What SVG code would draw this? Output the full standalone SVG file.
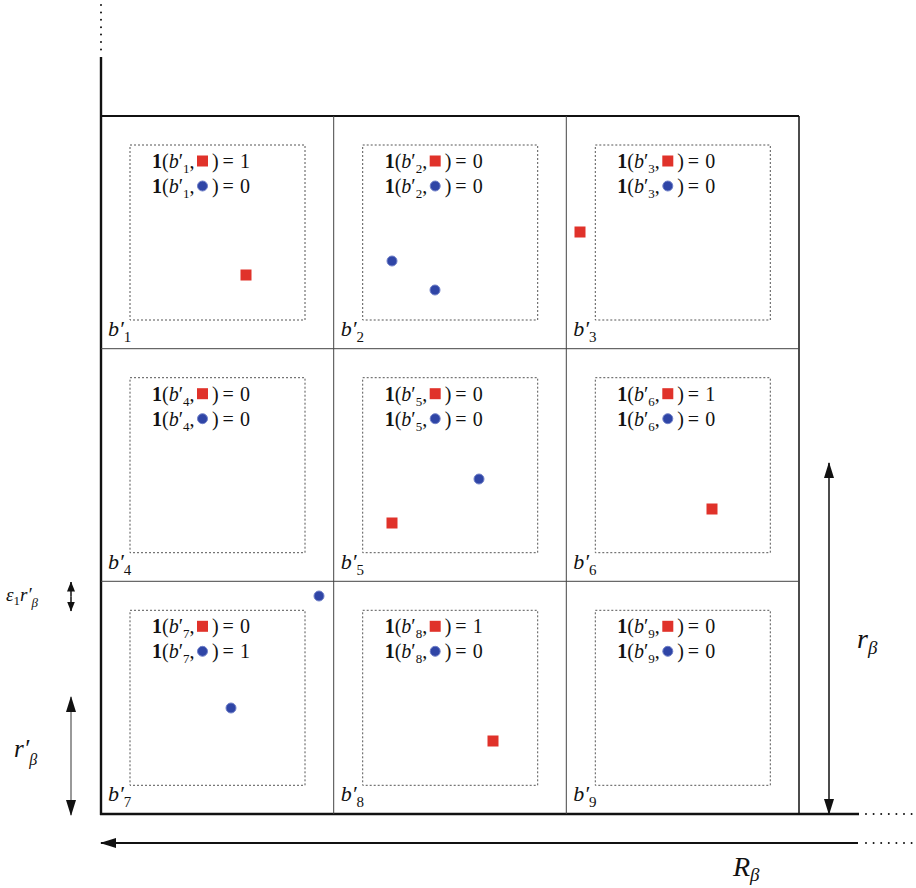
<svg xmlns="http://www.w3.org/2000/svg" width="916" height="888" viewBox="0 0 916 888">
<style>
text{font-family:"Liberation Serif","DejaVu Serif",serif;fill:#111}
.t{font-size:20px}
.lbl{font-size:22px;font-style:italic}
.i{font-style:italic}
.b{font-weight:bold}
.sub{font-size:13px;font-style:normal}
.grid{stroke:#444;stroke-width:1;fill:none}
.dot{stroke:#555;stroke-width:1;stroke-dasharray:2 2;fill:none}
.sq{fill:#e0322a}
.ci{fill:#2f45a6;stroke:#7080c8;stroke-width:1}
.ax{stroke:#111;fill:none}
</style>
<defs>
<marker id="ah" viewBox="0 0 16 10" refX="15" refY="5" markerWidth="16" markerHeight="10" markerUnits="userSpaceOnUse" orient="auto-start-reverse">
<path d="M0,0 L16,5 L0,10 z" fill="#111"/>
</marker>
<marker id="ahs" viewBox="0 0 10 8" refX="9.5" refY="4" markerWidth="10" markerHeight="8" markerUnits="userSpaceOnUse" orient="auto-start-reverse">
<path d="M0,0 L10,4 L0,8 z" fill="#111"/>
</marker>
</defs>

<g id="axes">
<line class="ax" x1="101" y1="5" x2="101" y2="52" stroke-width="2" stroke-linecap="round" stroke-dasharray="0 7.4"/>
<line class="ax" x1="101" y1="57" x2="101" y2="815" stroke-width="2.4"/>
<line class="ax" x1="100" y1="814" x2="859" y2="814" stroke-width="2.4"/>
<line class="ax" x1="866" y1="814" x2="912" y2="814" stroke-width="2" stroke-linecap="round" stroke-dasharray="0 7.6"/>
<line class="ax" x1="866" y1="843" x2="912" y2="843" stroke-width="2" stroke-linecap="round" stroke-dasharray="0 7.6"/>
<line class="ax" x1="101" y1="116" x2="799" y2="116" stroke-width="1.8"/>
<line class="ax" x1="799" y1="116" x2="799" y2="814" stroke-width="1.5"/>
</g>

<g id="grid">
<line class="grid" x1="333.7" y1="116" x2="333.7" y2="814"/>
<line class="grid" x1="566.3" y1="116" x2="566.3" y2="814"/>
<line class="grid" x1="101" y1="348.7" x2="799" y2="348.7"/>
<line class="grid" x1="101" y1="581.3" x2="799" y2="581.3"/>
</g>

<g id="connectors">
<line class="ax" x1="858" y1="843" x2="101" y2="843" stroke-width="2.2" marker-end="url(#ah)"/>
<line class="ax" x1="829" y1="463" x2="829" y2="814" stroke-width="1.5" marker-start="url(#ah)" marker-end="url(#ah)"/>
<line x1="71" y1="697" x2="71" y2="815" stroke="#777" stroke-width="1.5" marker-start="url(#ah)" marker-end="url(#ah)"/>
<line class="ax" x1="71" y1="582" x2="71" y2="596.5" stroke-width="1.5" marker-start="url(#ahs)"/>
<line class="ax" x1="71" y1="596.5" x2="71" y2="611" stroke-width="1.5" marker-end="url(#ahs)"/>
</g>

<g id="dimlabels">
<text x="733" y="876" style="font-size:28px" class="i">R<tspan style="font-size:19px" dy="5">β</tspan></text>
<text x="857" y="648" style="font-size:28px" class="i">r<tspan style="font-size:19px" dy="6">β</tspan></text>
<text x="14" y="757" style="font-size:25px" class="i">r′<tspan style="font-size:16px" dy="8">β</tspan></text>
<text x="6" y="601" style="font-size:19px" class="i">ε<tspan style="font-size:13px" dy="4" font-style="normal">1</tspan><tspan dy="-4">r′</tspan><tspan style="font-size:13px" dy="6">β</tspan></text>
</g>

<g id="cell1" transform="translate(101,116)">
<rect class="dot" x="29" y="29" width="175" height="175"/>
<text class="t" x="51" y="52"><tspan class="b">1</tspan>(<tspan class="i">b</tspan>′<tspan class="sub" dy="5">1</tspan><tspan dy="-5">,</tspan></text>
<rect class="sq" x="96" y="39.5" width="11" height="11"/>
<text class="t" y="52"><tspan x="111">)</tspan><tspan x="121.5">=</tspan><tspan x="139">1</tspan></text>
<text class="t" x="51" y="77"><tspan class="b">1</tspan>(<tspan class="i">b</tspan>′<tspan class="sub" dy="5">1</tspan><tspan dy="-5">,</tspan></text>
<circle class="ci" cx="101.5" cy="70" r="5"/>
<text class="t" y="77"><tspan x="111">)</tspan><tspan x="121.5">=</tspan><tspan x="139">0</tspan></text>
<text class="lbl" x="7" y="220">b′<tspan class="sub" style="font-size:15px" dy="6">1</tspan></text>
<rect class="sq" x="139.5" y="153.5" width="11" height="11"/>
</g>

<g id="cell2" transform="translate(333.7,116)">
<rect class="dot" x="29" y="29" width="175" height="175"/>
<text class="t" x="51" y="52"><tspan class="b">1</tspan>(<tspan class="i">b</tspan>′<tspan class="sub" dy="5">2</tspan><tspan dy="-5">,</tspan></text>
<rect class="sq" x="96" y="39.5" width="11" height="11"/>
<text class="t" y="52"><tspan x="111">)</tspan><tspan x="121.5">=</tspan><tspan x="139">0</tspan></text>
<text class="t" x="51" y="77"><tspan class="b">1</tspan>(<tspan class="i">b</tspan>′<tspan class="sub" dy="5">2</tspan><tspan dy="-5">,</tspan></text>
<circle class="ci" cx="101.5" cy="70" r="5"/>
<text class="t" y="77"><tspan x="111">)</tspan><tspan x="121.5">=</tspan><tspan x="139">0</tspan></text>
<text class="lbl" x="7" y="220">b′<tspan class="sub" style="font-size:15px" dy="6">2</tspan></text>
<circle class="ci" cx="58.3" cy="145" r="5"/>
<circle class="ci" cx="101.3" cy="174" r="5"/>
</g>

<g id="cell3" transform="translate(566.3,116)">
<rect class="dot" x="29" y="29" width="175" height="175"/>
<text class="t" x="51" y="52"><tspan class="b">1</tspan>(<tspan class="i">b</tspan>′<tspan class="sub" dy="5">3</tspan><tspan dy="-5">,</tspan></text>
<rect class="sq" x="96" y="39.5" width="11" height="11"/>
<text class="t" y="52"><tspan x="111">)</tspan><tspan x="121.5">=</tspan><tspan x="139">0</tspan></text>
<text class="t" x="51" y="77"><tspan class="b">1</tspan>(<tspan class="i">b</tspan>′<tspan class="sub" dy="5">3</tspan><tspan dy="-5">,</tspan></text>
<circle class="ci" cx="101.5" cy="70" r="5"/>
<text class="t" y="77"><tspan x="111">)</tspan><tspan x="121.5">=</tspan><tspan x="139">0</tspan></text>
<text class="lbl" x="7" y="220">b′<tspan class="sub" style="font-size:15px" dy="6">3</tspan></text>
<rect class="sq" x="8.2" y="110.5" width="11" height="11"/>
</g>

<g id="cell4" transform="translate(101,348.7)">
<rect class="dot" x="29" y="29" width="175" height="175"/>
<text class="t" x="51" y="52"><tspan class="b">1</tspan>(<tspan class="i">b</tspan>′<tspan class="sub" dy="5">4</tspan><tspan dy="-5">,</tspan></text>
<rect class="sq" x="96" y="39.5" width="11" height="11"/>
<text class="t" y="52"><tspan x="111">)</tspan><tspan x="121.5">=</tspan><tspan x="139">0</tspan></text>
<text class="t" x="51" y="77"><tspan class="b">1</tspan>(<tspan class="i">b</tspan>′<tspan class="sub" dy="5">4</tspan><tspan dy="-5">,</tspan></text>
<circle class="ci" cx="101.5" cy="70" r="5"/>
<text class="t" y="77"><tspan x="111">)</tspan><tspan x="121.5">=</tspan><tspan x="139">0</tspan></text>
<text class="lbl" x="7" y="220">b′<tspan class="sub" style="font-size:15px" dy="6">4</tspan></text>
</g>

<g id="cell5" transform="translate(333.7,348.7)">
<rect class="dot" x="29" y="29" width="175" height="175"/>
<text class="t" x="51" y="52"><tspan class="b">1</tspan>(<tspan class="i">b</tspan>′<tspan class="sub" dy="5">5</tspan><tspan dy="-5">,</tspan></text>
<rect class="sq" x="96" y="39.5" width="11" height="11"/>
<text class="t" y="52"><tspan x="111">)</tspan><tspan x="121.5">=</tspan><tspan x="139">0</tspan></text>
<text class="t" x="51" y="77"><tspan class="b">1</tspan>(<tspan class="i">b</tspan>′<tspan class="sub" dy="5">5</tspan><tspan dy="-5">,</tspan></text>
<circle class="ci" cx="101.5" cy="70" r="5"/>
<text class="t" y="77"><tspan x="111">)</tspan><tspan x="121.5">=</tspan><tspan x="139">0</tspan></text>
<text class="lbl" x="7" y="220">b′<tspan class="sub" style="font-size:15px" dy="6">5</tspan></text>
<circle class="ci" cx="145.3" cy="130.3" r="5"/>
<rect class="sq" x="52.8" y="168.8" width="11" height="11"/>
</g>

<g id="cell6" transform="translate(566.3,348.7)">
<rect class="dot" x="29" y="29" width="175" height="175"/>
<text class="t" x="51" y="52"><tspan class="b">1</tspan>(<tspan class="i">b</tspan>′<tspan class="sub" dy="5">6</tspan><tspan dy="-5">,</tspan></text>
<rect class="sq" x="96" y="39.5" width="11" height="11"/>
<text class="t" y="52"><tspan x="111">)</tspan><tspan x="121.5">=</tspan><tspan x="139">1</tspan></text>
<text class="t" x="51" y="77"><tspan class="b">1</tspan>(<tspan class="i">b</tspan>′<tspan class="sub" dy="5">6</tspan><tspan dy="-5">,</tspan></text>
<circle class="ci" cx="101.5" cy="70" r="5"/>
<text class="t" y="77"><tspan x="111">)</tspan><tspan x="121.5">=</tspan><tspan x="139">0</tspan></text>
<text class="lbl" x="7" y="220">b′<tspan class="sub" style="font-size:15px" dy="6">6</tspan></text>
<rect class="sq" x="140.2" y="154.8" width="11" height="11"/>
</g>

<g id="cell7" transform="translate(101,581.3)">
<rect class="dot" x="29" y="29" width="175" height="175"/>
<text class="t" x="51" y="52"><tspan class="b">1</tspan>(<tspan class="i">b</tspan>′<tspan class="sub" dy="5">7</tspan><tspan dy="-5">,</tspan></text>
<rect class="sq" x="96" y="39.5" width="11" height="11"/>
<text class="t" y="52"><tspan x="111">)</tspan><tspan x="121.5">=</tspan><tspan x="139">0</tspan></text>
<text class="t" x="51" y="77"><tspan class="b">1</tspan>(<tspan class="i">b</tspan>′<tspan class="sub" dy="5">7</tspan><tspan dy="-5">,</tspan></text>
<circle class="ci" cx="101.5" cy="70" r="5"/>
<text class="t" y="77"><tspan x="111">)</tspan><tspan x="121.5">=</tspan><tspan x="139">1</tspan></text>
<text class="lbl" x="7" y="220">b′<tspan class="sub" style="font-size:15px" dy="6">7</tspan></text>
<circle class="ci" cx="130" cy="126.7" r="5"/>
<circle class="ci" cx="218" cy="14.7" r="5"/>
</g>

<g id="cell8" transform="translate(333.7,581.3)">
<rect class="dot" x="29" y="29" width="175" height="175"/>
<text class="t" x="51" y="52"><tspan class="b">1</tspan>(<tspan class="i">b</tspan>′<tspan class="sub" dy="5">8</tspan><tspan dy="-5">,</tspan></text>
<rect class="sq" x="96" y="39.5" width="11" height="11"/>
<text class="t" y="52"><tspan x="111">)</tspan><tspan x="121.5">=</tspan><tspan x="139">1</tspan></text>
<text class="t" x="51" y="77"><tspan class="b">1</tspan>(<tspan class="i">b</tspan>′<tspan class="sub" dy="5">8</tspan><tspan dy="-5">,</tspan></text>
<circle class="ci" cx="101.5" cy="70" r="5"/>
<text class="t" y="77"><tspan x="111">)</tspan><tspan x="121.5">=</tspan><tspan x="139">0</tspan></text>
<text class="lbl" x="7" y="220">b′<tspan class="sub" style="font-size:15px" dy="6">8</tspan></text>
<rect class="sq" x="153.8" y="154.2" width="11" height="11"/>
</g>

<g id="cell9" transform="translate(566.3,581.3)">
<rect class="dot" x="29" y="29" width="175" height="175"/>
<text class="t" x="51" y="52"><tspan class="b">1</tspan>(<tspan class="i">b</tspan>′<tspan class="sub" dy="5">9</tspan><tspan dy="-5">,</tspan></text>
<rect class="sq" x="96" y="39.5" width="11" height="11"/>
<text class="t" y="52"><tspan x="111">)</tspan><tspan x="121.5">=</tspan><tspan x="139">0</tspan></text>
<text class="t" x="51" y="77"><tspan class="b">1</tspan>(<tspan class="i">b</tspan>′<tspan class="sub" dy="5">9</tspan><tspan dy="-5">,</tspan></text>
<circle class="ci" cx="101.5" cy="70" r="5"/>
<text class="t" y="77"><tspan x="111">)</tspan><tspan x="121.5">=</tspan><tspan x="139">0</tspan></text>
<text class="lbl" x="7" y="220">b′<tspan class="sub" style="font-size:15px" dy="6">9</tspan></text>
</g>
</svg>
